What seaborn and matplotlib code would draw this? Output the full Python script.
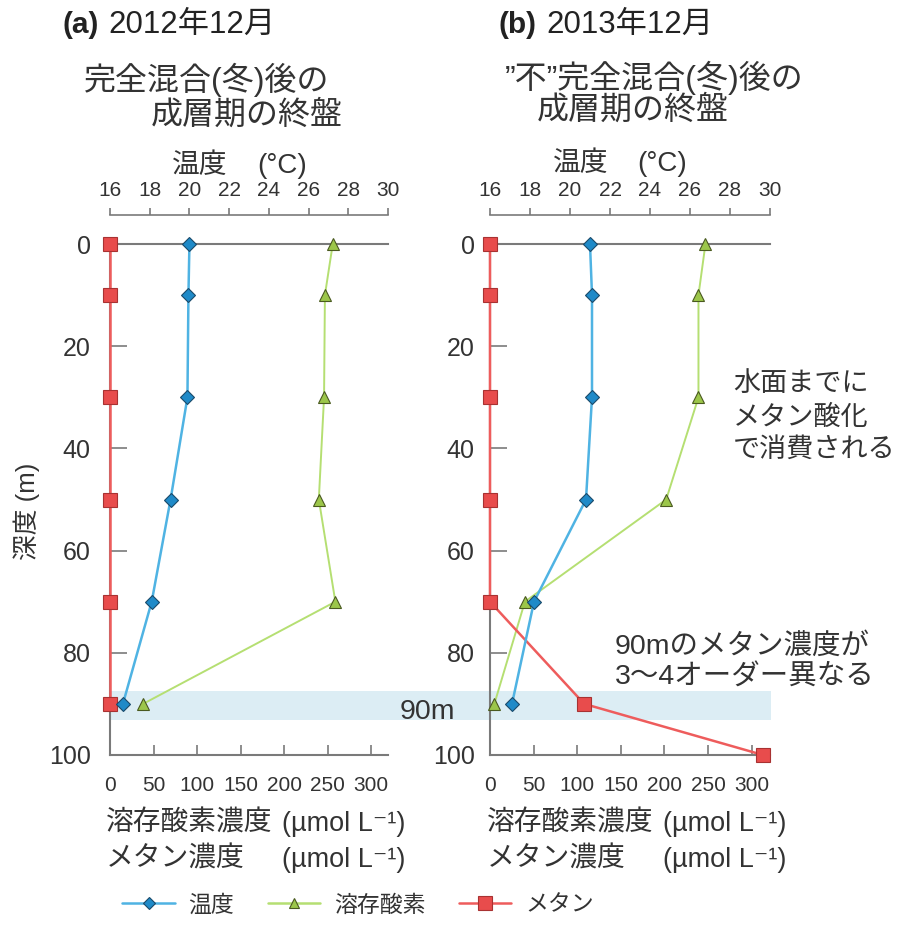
import matplotlib
matplotlib.use("Agg")
import matplotlib.pyplot as plt
from matplotlib.lines import Line2D
import seaborn as sns

# ---------------- data ----------------
depth = [0, 10, 30, 50, 70, 90]
depth_ch4_a = [0, 10, 30, 50, 70, 90]
depth_ch4_b = [0, 10, 30, 50, 70, 90, 100]

temp_a = [20.0, 19.95, 19.9, 19.05, 18.1, 16.65]
do_a = [256, 247, 246, 240, 259, 38]
ch4_a = [0, 0, 0, 0, 0, 0]

temp_b = [21.0, 21.1, 21.1, 20.8, 18.2, 17.1]
do_b = [247, 239, 239, 202, 40, 5]
ch4_b = [0, 0, 0, 0, 0, 108, 313]

temp_ticks = [16, 18, 20, 22, 24, 26, 28, 30]
conc_ticks = [0, 50, 100, 150, 200, 250, 300]
depth_ticks = [0, 20, 40, 60, 80, 100]

band_depth = (87.5, 93.2)

# ---------------- style ----------------
sns.set_theme(style="white")
plt.rcParams["font.family"] = ["Liberation Sans", "Noto Sans CJK JP", "DejaVu Sans"]
TXT = "#333333"
GRAY = "#7a7a7a"
BLUE_L, BLUE_F, BLUE_E = "#4fb3e3", "#1f8ac8", "#1a4a6a"
GREEN_L, GREEN_F, GREEN_E = "#b5df72", "#9cc64a", "#4a5a20"
RED_L, RED_F, RED_E = "#ee5c5c", "#e84c4c", "#a83232"
BAND = "#dcedf4"

W, H = 902, 925
fig = plt.figure(figsize=(W / 100, H / 100), dpi=100)


def fx(x):
    return x / W


def fy(y):
    return 1 - y / H


ax1 = fig.add_axes([fx(110), fy(755), 278 / W, 511 / H])
ax2 = fig.add_axes([fx(490), fy(755), 280 / W, 511 / H])


def panel(ax, temp, do, ch4_depth, ch4, xmax, ypad):
    ax.set_facecolor("none")
    sns.lineplot(x=do, y=depth, ax=ax, sort=False, estimator=None,
                 color=GREEN_L, lw=1.4, marker="^", ms=9, mfc=GREEN_F,
                 mec=GREEN_E, mew=0.8, clip_on=False, zorder=4)
    sns.lineplot(x=ch4, y=ch4_depth, ax=ax, sort=False, estimator=None,
                 color=RED_L, lw=1.8, marker="s", ms=10.5, mfc=RED_F,
                 mec=RED_E, mew=0.8, clip_on=False, zorder=5)
    ax.set_xlim(0, xmax)
    ax.set_ylim(100, 0)
    ax.set_xticks(conc_ticks)
    ax.set_yticks(depth_ticks)
    ax.set_xlabel("")
    ax.set_ylabel("")
    for s in ["left", "bottom", "top"]:
        ax.spines[s].set_visible(True)
        ax.spines[s].set_color(GRAY)
        ax.spines[s].set_linewidth(1.5)
    ax.spines["right"].set_visible(False)
    ax.tick_params(axis="x", bottom=True, top=False, direction="in",
                   length=7, width=1.2, color=GRAY, labelsize=15,
                   labelcolor=TXT, pad=15)
    ax.tick_params(axis="y", left=True, right=False, direction="in",
                   length=12, width=1.2, color=GRAY, labelsize=18,
                   labelcolor=TXT, pad=ypad)

    tw = ax.twiny()
    sns.lineplot(x=temp, y=depth, ax=tw, sort=False, estimator=None,
                 color=BLUE_L, lw=1.8, marker="D", ms=7.5, mfc=BLUE_F,
                 mec=BLUE_E, mew=0.8, clip_on=False, zorder=6)
    tw.set_xlim(16, 30)
    tw.set_ylim(100, 0)
    tw.set_xticks(temp_ticks)
    tw.set_xlabel("")
    tw.set_ylabel("")
    for s in ["left", "bottom", "right"]:
        tw.spines[s].set_visible(False)
    tw.spines["top"].set_visible(True)
    tw.spines["top"].set_position(("outward", 21))
    tw.spines["top"].set_color(GRAY)
    tw.spines["top"].set_linewidth(1.2)
    tw.tick_params(axis="x", top=True, bottom=False, labeltop=True,
                   labelbottom=False, direction="out", length=5, width=1.2,
                   color=GRAY, labelsize=15, labelcolor=TXT, pad=6)
    tw.tick_params(axis="y", left=False, right=False, labelleft=False,
                   labelright=False)
    return tw


tw1 = panel(ax1, temp_a, do_a, depth_ch4_a, ch4_a, 319.5, 14)
tw2 = panel(ax2, temp_b, do_b, depth_ch4_b, ch4_b, 321, 11)

# 90 m band spanning both panels
ax1.axhspan(band_depth[0], band_depth[1], xmin=0, xmax=(771 - 110) / 278,
            color=BAND, zorder=0, clip_on=False, lw=0)

# ---------------- texts ----------------
def t(x, y, s, size, **kw):
    kw.setdefault("color", TXT)
    kw.setdefault("va", "center")
    kw.setdefault("ha", "left")
    fig.text(fx(x), fy(y), s, fontsize=size, **kw)


t(62, 25, "(a)", 21.5, weight="bold", color="#222222")
t(108, 25, "2012年12月", 22.5, color="#222222")
t(498, 25, "(b)", 21.5, weight="bold", color="#222222")
t(546, 25, "2013年12月", 22.5, color="#222222")

t(84, 80, "完全混合(冬)後の", 23)
t(151, 115, "成層期の終盤", 23)
t(505, 78, "”不”完全混合(冬)後の", 23)
t(537, 111, "成層期の終盤", 23)

t(172, 166, "温度", 20)
t(257, 166, "(°C)", 20)
t(553, 164, "温度", 20)
t(637, 164, "(°C)", 20)

for x0, xr in [(106, 282), (487, 663)]:
    t(x0, 824, "溶存酸素濃度", 20)
    t(xr, 824, "(µmol L⁻¹)", 19.5)
    t(x0, 860, "メタン濃度", 20)
    t(xr, 860, "(µmol L⁻¹)", 19.5)

t(27, 511, "深度 (m)", 18.5, rotation=90, ha="center")

t(400, 712, "90m", 20.5)
t(733, 384, "水面までに", 19.5)
t(733, 418, "メタン酸化", 19.5)
t(733, 450, "で消費される", 19.5)
t(615, 646, "90mのメタン濃度が", 20.5)
t(615, 678, "3〜4オーダー異なる", 20.5)

# ---------------- legend ----------------
handles = [
    Line2D([], [], color=BLUE_L, lw=1.8, marker="D", ms=6.5, mfc=BLUE_F,
           mec=BLUE_E, mew=0.8),
    Line2D([], [], color=GREEN_L, lw=1.8, marker="^", ms=7, mfc=GREEN_F,
           mec=GREEN_E, mew=0.8),
    Line2D([], [], color=RED_L, lw=1.8, marker="s", ms=9.5, mfc=RED_F,
           mec=RED_E, mew=0.8),
]
fig.legend(handles, ["温度", "溶存酸素", "メタン"], loc="center",
           bbox_to_anchor=(fx(358), fy(905)), ncol=3, frameon=False,
           fontsize=16.5, handlelength=2.3, handletextpad=0.6,
           columnspacing=1.45, labelcolor=TXT)

fig.savefig("out.png", dpi=100)
